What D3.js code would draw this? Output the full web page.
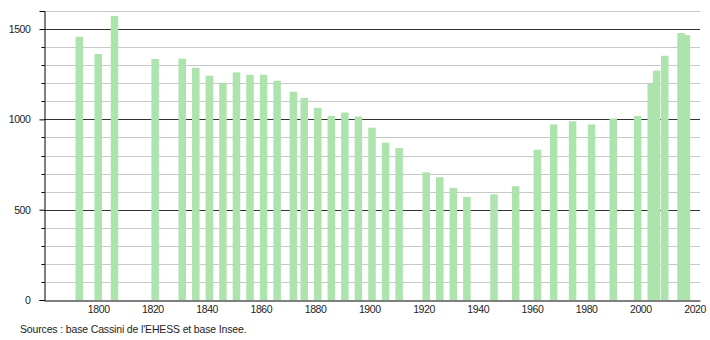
<!DOCTYPE html>
<html>
<head>
<meta charset="utf-8">
<script src="https://cdn.jsdelivr.net/npm/d3@7"></script>
<style>
  body { margin: 0; background: #fff; }
  svg { display: block; font-family: "Liberation Sans", Arial, sans-serif; }
</style>
</head>
<body>
<div id="chart"></div>
<script>
// census years and population
const years = [1793, 1800, 1806, 1821, 1831, 1836, 1841, 1846, 1851, 1856, 1861, 1866,
  1872, 1876, 1881, 1886, 1891, 1896, 1901, 1906, 1911, 1921, 1926, 1931, 1936,
  1946, 1954, 1962, 1968, 1975, 1982, 1990, 1999, 2004, 2006, 2009, 2015, 2017];
const population = [1457, 1362, 1573, 1334, 1336, 1286, 1242, 1203, 1260, 1247, 1247, 1214,
  1153, 1119, 1064, 1019, 1038, 1016, 954, 871, 841, 707, 680, 621, 571,
  585, 630, 832, 972, 989, 972, 1005, 1019, 1196, 1270, 1352, 1478, 1466];
const xTicks = [1800, 1820, 1840, 1860, 1880, 1900, 1920, 1940, 1960, 1980, 2000, 2020];
const yTicks = [0, 500, 1000, 1500];
const source = "Sources : base Cassini de l'EHESS et base Insee.";

const W = 710, H = 340;
const mLeft = 44, mRight = 700, mTop = 11, mBottom = 300;

const x = d3.scaleLinear().domain([1780, 2022]).range([mLeft, mRight]);
const y = d3.scaleLinear().domain([0, 1600]).range([mBottom, mTop]);

const svg = d3.select("#chart").append("svg")
  .attr("width", W).attr("height", H);

const defs = svg.append("defs");
defs.append("filter").attr("id", "soft")
  .attr("x", "-50%").attr("width", "200%")
  .append("feGaussianBlur").attr("stdDeviation", 0.7);

// grid every 100, darker every 500
const grid = d3.range(100, 1601, 100);
svg.append("g").selectAll("line")
  .data(grid)
  .join("line")
  .attr("x1", mLeft).attr("x2", mRight)
  .attr("y1", d => Math.round(y(d)) + 0.5).attr("y2", d => Math.round(y(d)) + 0.5)
  .attr("stroke", d => d % 500 === 0 ? "#333" : "#c8c8c8")
  .attr("stroke-width", 1);

// bars
const bw = 7.5;
svg.append("g").attr("filter", "url(#soft)")
  .selectAll("rect")
  .data(years)
  .join("rect")
  .attr("x", (d) => x(d) - bw / 2)
  .attr("width", bw)
  .attr("y", (d, i) => y(population[i]))
  .attr("height", (d, i) => mBottom - y(population[i]))
  .attr("fill", "#ade3ad");

const styleText = sel => sel.attr("font-size", 10.5).attr("fill", "#222")
  .attr("letter-spacing", -0.4)
  .attr("font-family", "Liberation Sans, Arial, sans-serif");

// y axis with minor ticks
const yAxis = svg.append("g").attr("transform", `translate(${mLeft + 0.5},0)`)
  .call(d3.axisLeft(y).tickValues(yTicks).tickFormat(d3.format("d")).tickSize(5).tickPadding(9));
yAxis.select(".domain").attr("stroke", "#000");
yAxis.selectAll("text").call(styleText);
yAxis.append("g").selectAll("line")
  .data(grid.filter(d => d % 500 !== 0))
  .join("line")
  .attr("x1", -3).attr("x2", 0)
  .attr("y1", d => Math.round(y(d)) + 0.5).attr("y2", d => Math.round(y(d)) + 0.5)
  .attr("stroke", "#000");

// x axis
const xAxis = svg.append("g").attr("transform", `translate(0,${mBottom + 0.5})`)
  .call(d3.axisBottom(x).tickValues(xTicks).tickFormat(d3.format("d")).tickSize(0).tickPadding(5));
xAxis.select(".domain").attr("stroke", "#000");
xAxis.selectAll("text").call(styleText);

svg.append("text")
  .attr("x", 20).attr("y", 333)
  .call(styleText)
  .attr("letter-spacing", -0.15)
  .text(source);
</script>
</body>
</html>
